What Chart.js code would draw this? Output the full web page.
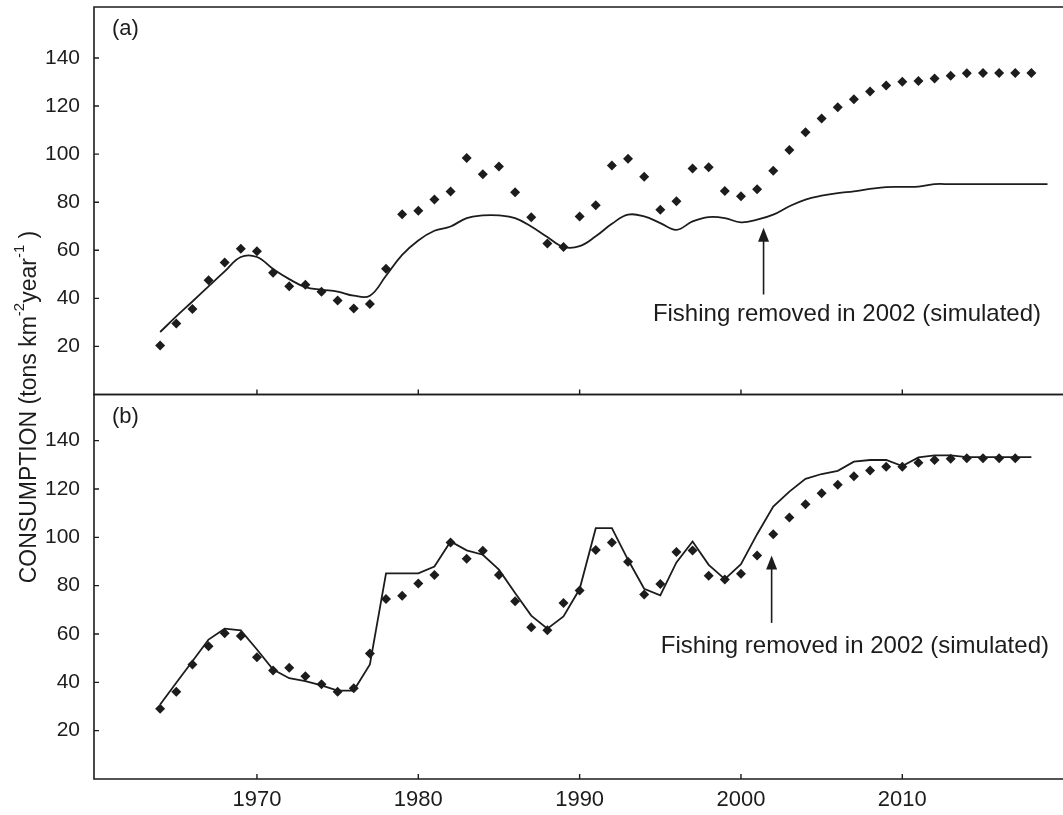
<!DOCTYPE html>
<html>
<head>
<meta charset="utf-8">
<title>Consumption</title>
<script src="https://cdn.jsdelivr.net/npm/chart.js@4.4.1/dist/chart.umd.min.js"></script>
<style>
  html, body { margin: 0; padding: 0; background: #fff; }
  #wrap { position: relative; width: 1063px; height: 815px; overflow: hidden; }
  #wrap canvas { position: absolute; left: 0; top: 0; }
</style>
</head>
<body>
<div id="wrap">
  <canvas id="chartA" width="1063" height="400"></canvas>
  <canvas id="chartB" width="1063" height="815"></canvas>
</div>
<script>
// years on the x axis (each series uses as many as it has values)
const years = [
  1964, 1965, 1966, 1967, 1968, 1969, 1970, 1971, 1972, 1973, 1974, 1975, 1976, 1977,
  1978, 1979, 1980, 1981, 1982, 1983, 1984, 1985, 1986, 1987, 1988, 1989, 1990, 1991,
  1992, 1993, 1994, 1995, 1996, 1997, 1998, 1999, 2000, 2001, 2002, 2003, 2004, 2005,
  2006, 2007, 2008, 2009, 2010, 2011, 2012, 2013, 2014, 2015, 2016, 2017, 2018, 2019
];

// (a) observed points 1964-2018, smooth simulated line 1964-2019
const obsA = [
  20.4, 29.5, 35.6, 47.5, 54.9, 60.6, 59.6, 50.6, 45.0, 45.7, 42.7, 39.1, 35.8, 37.7,
  52.3, 75.0, 76.4, 81.1, 84.5, 98.4, 91.6, 94.9, 84.1, 73.7, 62.8, 61.4, 74.1, 78.7,
  95.3, 98.1, 90.6, 76.9, 80.4, 94.0, 94.5, 84.7, 82.5, 85.4, 93.1, 101.7, 109.1, 114.8,
  119.5, 122.8, 126.0, 128.5, 130.1, 130.4, 131.5, 132.6, 133.6, 133.7, 133.7, 133.7, 133.7
];
const simA = [
  26.0, 32.5, 38.7, 45.0, 51.2, 57.2, 57.2, 52.2, 48.0, 44.7, 43.6, 42.8, 41.1, 41.1,
  49.4, 58.1, 64.1, 68.1, 69.9, 73.4, 74.5, 74.5, 73.4, 69.9, 65.5, 61.4, 61.7, 65.8,
  71.0, 74.8, 74.1, 71.3, 68.5, 72.0, 73.8, 73.4, 71.6, 72.7, 74.8, 78.3, 81.1, 82.7,
  83.8, 84.5, 85.5, 86.3, 86.4, 86.5, 87.5, 87.5, 87.5, 87.5, 87.5, 87.5, 87.5, 87.5
];

// (b) observed points 1964-2017, simulated line 1964-2018
const obsB = [
  29.1, 36.1, 47.4, 54.9, 60.3, 59.2, 50.4, 44.9, 46.0, 42.5, 39.2, 36.1, 37.6, 51.9,
  74.5, 75.8, 80.9, 84.4, 97.9, 91.1, 94.4, 84.4, 73.5, 62.8, 61.5, 72.8, 78.0, 94.8,
  97.9, 89.9, 76.3, 80.7, 93.9, 94.6, 84.1, 82.6, 84.9, 92.5, 101.3, 108.2, 113.7, 118.2,
  121.8, 125.3, 127.7, 129.2, 129.2, 130.9, 132.0, 132.5, 132.7, 132.7, 132.7, 132.7
];
const simB = [
  30.8, 39.8, 48.7, 57.7, 62.2, 61.5, 53.6, 45.3, 41.7, 40.5, 38.7, 36.6, 36.6, 47.4,
  85.1, 85.1, 85.1, 87.9, 98.3, 94.6, 92.8, 86.6, 77.0, 67.6, 62.2, 67.3, 78.6, 103.8,
  103.8, 90.7, 78.7, 76.0, 89.6, 98.3, 88.6, 82.7, 88.9, 101.3, 112.7, 118.9, 124.2, 126.2,
  127.5, 131.3, 132.0, 132.0, 129.5, 133.1, 133.9, 133.9, 133.2, 133.2, 133.2, 133.2, 133.2
];

const yTicks = [20, 40, 60, 80, 100, 120, 140];
const xTicks = [1970, 1980, 1990, 2000, 2010];
const noteText = 'Fishing removed in 2002 (simulated)';
const panelLabels = ['(a)', '(b)'];
// y title pieces: [text, isSuperscript]
const titleParts = [['CONSUMPTION (tons km', false], ['-2', true], ['year', false], ['-1', true], [' )', false]];

const INK = '#1c1c1c';
const FONT = "'Liberation Sans', Arial, Helvetica, sans-serif";

const toPoints = (vals) => vals.map((v, i) => ({ x: years[i], y: v }));

// frame, inward ticks, panel label, arrow note, optional y title
const panelDeco = {
  id: 'panelDeco',
  afterDraw(chart, args, opts) {
    const { ctx, chartArea: a, scales: { x, y } } = chart;
    ctx.save();
    ctx.strokeStyle = INK;
    ctx.fillStyle = INK;

    ctx.lineWidth = 1.6;
    ctx.beginPath();
    ctx.moveTo(chart.width, a.top);
    ctx.lineTo(a.left, a.top);
    ctx.lineTo(a.left, a.bottom);
    ctx.lineTo(chart.width, a.bottom);
    ctx.stroke();

    ctx.lineWidth = 1.4;
    ctx.beginPath();
    y.ticks.forEach(t => {
      const py = y.getPixelForValue(t.value);
      ctx.moveTo(a.left, py);
      ctx.lineTo(a.left + 5, py);
    });
    x.ticks.forEach(t => {
      const px = x.getPixelForValue(t.value);
      ctx.moveTo(px, a.bottom);
      ctx.lineTo(px, a.bottom - 5);
    });
    ctx.stroke();

    ctx.font = `22px ${FONT}`;
    ctx.textAlign = 'left';
    ctx.textBaseline = 'middle';
    ctx.fillText(opts.label, a.left + 18, a.top + 22);

    // arrow pointing at the 2002 change
    const n = opts.note;
    const ax = x.getPixelForValue(n.at);
    const tipY = y.getPixelForValue(n.tip);
    const tailY = y.getPixelForValue(n.tail);
    ctx.lineWidth = 1.6;
    ctx.beginPath();
    ctx.moveTo(ax, tailY);
    ctx.lineTo(ax, tipY + 12);
    ctx.stroke();
    ctx.beginPath();
    ctx.moveTo(ax, tipY);
    ctx.lineTo(ax - 5.5, tipY + 14);
    ctx.lineTo(ax + 5.5, tipY + 14);
    ctx.closePath();
    ctx.fill();

    ctx.font = `24px ${FONT}`;
    ctx.textBaseline = 'alphabetic';
    ctx.fillText(noteText, x.getPixelForValue(n.textAt), y.getPixelForValue(n.textY));

    if (opts.title) drawTitle(ctx, opts.title.cx, opts.title.cy);
    ctx.restore();
  }
};

function drawTitle(ctx, cx, cy) {
  const big = `23px ${FONT}`, small = `15px ${FONT}`;
  let total = 0;
  titleParts.forEach(([t, sup]) => { ctx.font = sup ? small : big; total += ctx.measureText(t).width; });
  ctx.save();
  ctx.translate(cx, cy);
  ctx.rotate(-Math.PI / 2);
  ctx.textAlign = 'left';
  ctx.textBaseline = 'middle';
  let pos = -total / 2;
  titleParts.forEach(([t, sup]) => {
    ctx.font = sup ? small : big;
    ctx.fillText(t, pos, sup ? -10 : 0);
    pos += ctx.measureText(t).width;
  });
  ctx.restore();
}

function makeChart(canvasId, obs, sim, opts) {
  return new Chart(document.getElementById(canvasId), {
    type: 'scatter',
    data: {
      datasets: [
        {
          data: toPoints(obs),
          showLine: false,
          pointStyle: 'rectRot',
          pointRadius: 5,
          pointBorderWidth: 0,
          backgroundColor: INK,
          borderColor: INK
        },
        {
          data: toPoints(sim),
          showLine: true,
          tension: opts.tension,
          pointRadius: 0,
          borderWidth: 1.8,
          borderColor: INK
        }
      ]
    },
    options: {
      responsive: false,
      animation: false,
      events: [],
      layout: { padding: { top: opts.top, right: 0, bottom: 0, left: 0 } },
      plugins: {
        legend: { display: false },
        tooltip: { enabled: false },
        panelDeco: opts.deco
      },
      scales: {
        x: {
          type: 'linear',
          min: 1959.9,
          max: 2019.65,
          grid: { display: false, drawTicks: false },
          border: { display: false },
          afterBuildTicks: s => { s.ticks = xTicks.map(v => ({ value: v })); },
          afterFit: s => { s.height = opts.xHeight; s.paddingLeft = 0; s.paddingRight = 0; },
          ticks: {
            display: opts.showYears,
            padding: 8,
            color: INK,
            font: { family: FONT, size: 22 },
            callback: v => String(v)
          }
        },
        y: {
          min: 0,
          max: opts.yMax,
          grid: { display: false, drawTicks: false },
          border: { display: false },
          afterBuildTicks: s => { s.ticks = yTicks.map(v => ({ value: v })); },
          afterFit: s => { s.width = 94; s.paddingTop = 0; s.paddingBottom = 0; },
          ticks: {
            padding: 14,
            color: INK,
            font: { family: FONT, size: 21 },
            callback: v => String(v)
          }
        }
      }
    },
    plugins: [panelDeco]
  });
}

makeChart('chartA', obsA, simA, {
  top: 7, xHeight: 5.5, yMax: 161.2, tension: 0.4, showYears: false,
  deco: { label: panelLabels[0], note: { at: 2001.4, tip: 69.4, tail: 41.6, textAt: 1994.54, textY: 30.5 } }
});
makeChart('chartB', obsB, simB, {
  top: 394.5, xHeight: 36, yMax: 159.1, tension: 0, showYears: true,
  deco: {
    label: panelLabels[1],
    note: { at: 2001.9, tip: 92.5, tail: 64.6, textAt: 1995.03, textY: 52.2 },
    title: { cx: 30, cy: 407 }
  }
});
</script>
</body>
</html>
